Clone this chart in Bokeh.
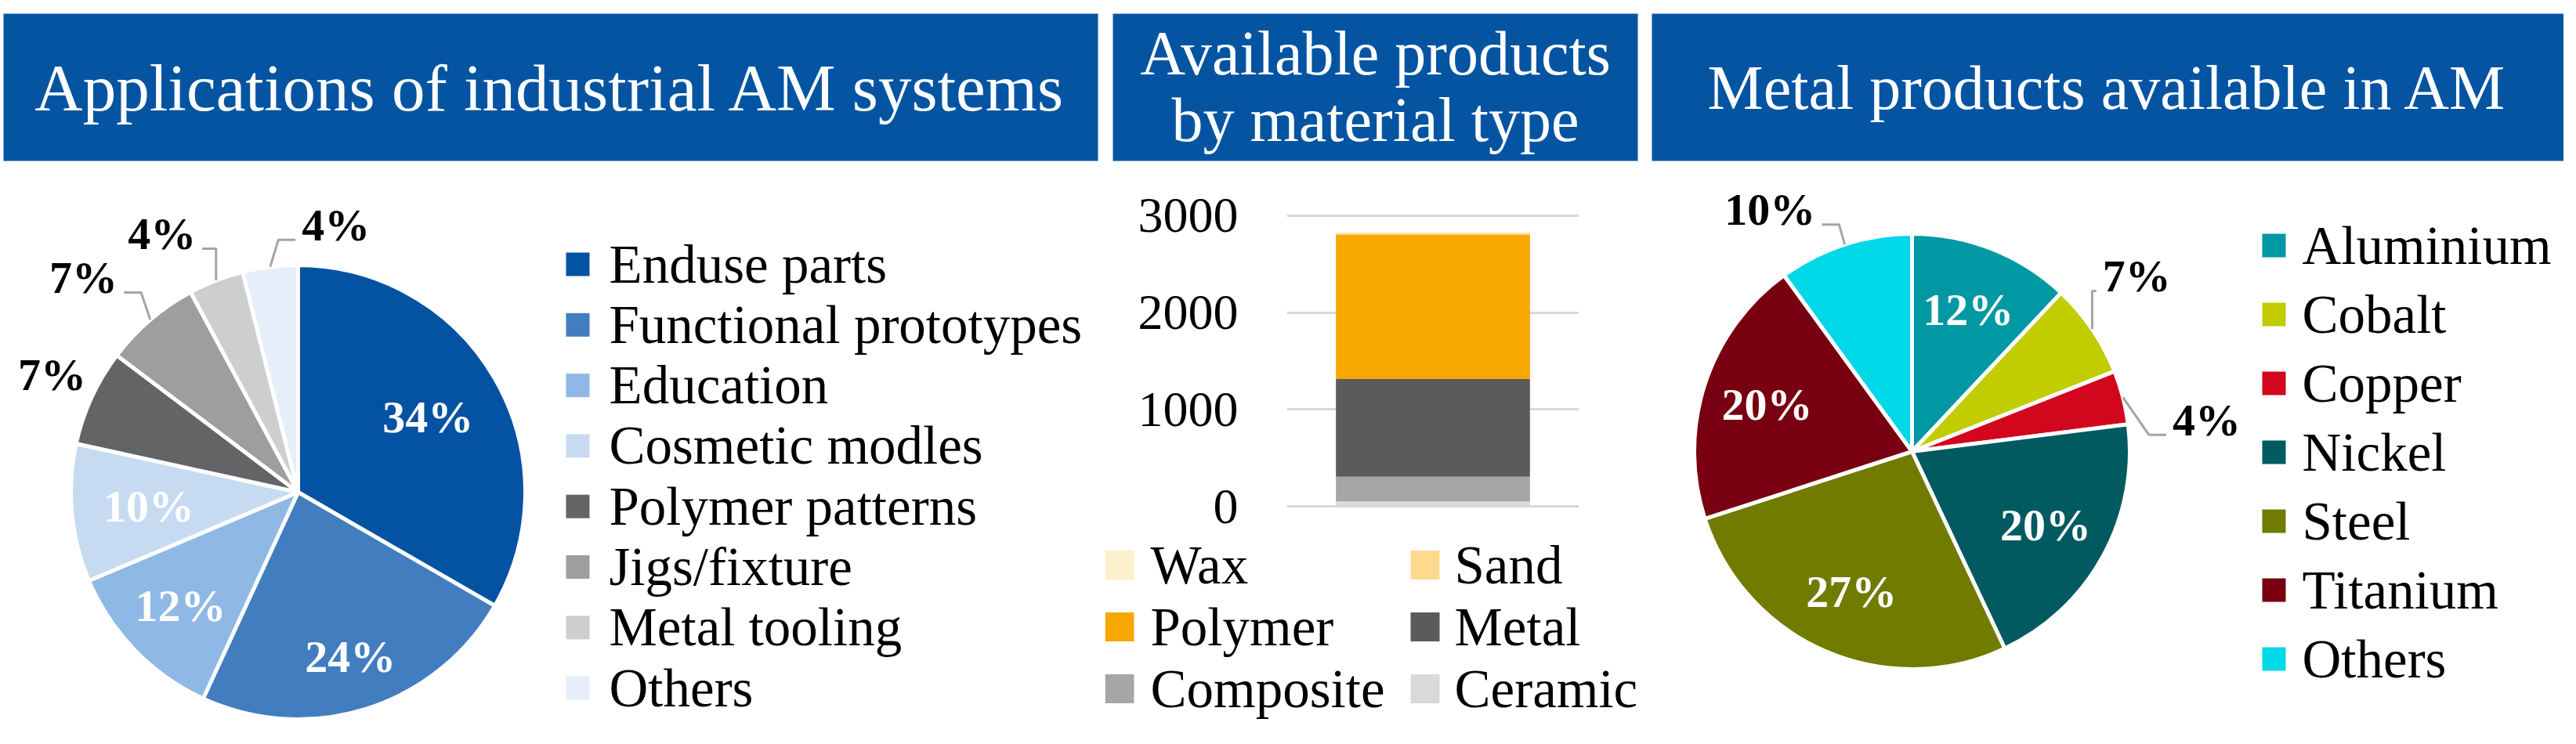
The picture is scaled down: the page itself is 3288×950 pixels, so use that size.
import math
from bokeh.plotting import figure
from bokeh.layouts import row, column
from bokeh.models import Range1d, ColumnDataSource, FixedTicker, FactorRange
from bokeh.embed import file_html
from bokeh.resources import INLINE
from bokeh.core.properties import value

# ---------------- data ----------------
app_title = ["Applications of industrial AM systems"]
app_labels = ["Enduse parts", "Functional prototypes", "Education", "Cosmetic modles",
              "Polymer patterns", "Jigs/fixture", "Metal tooling", "Others"]
app_pct = [34, 24, 12, 10, 7, 7, 4, 4]
app_colors = ["#0453A3", "#427EBF", "#8FB8E5", "#C6DBF2",
              "#636466", "#9D9EA0", "#CDCED0", "#E6EEF9"]

mat_title = ["Available products", "by material type"]
mat_labels = ["Wax", "Sand", "Polymer", "Metal", "Composite", "Ceramic"]
mat_values = [10, 15, 1490, 1010, 255, 50]
mat_colors = ["#FFF0CC", "#FFD98E", "#F6A800", "#5B5B5B", "#A6A6A6", "#D9D9D9"]
mat_stack_order = ["Ceramic", "Composite", "Metal", "Polymer", "Sand", "Wax"]
mat_ticks = [0, 1000, 2000, 3000]

metal_title = ["Metal products available in AM"]
metal_labels = ["Aluminium", "Cobalt", "Copper", "Nickel", "Steel", "Titanium", "Others"]
metal_pct = [12, 7, 4, 20, 27, 20, 10]
metal_colors = ["#0098A2", "#C1CD00", "#D2061C", "#005A60", "#707B00", "#780010", "#00D7E7"]

# ---------------- style ----------------
FONT = value("Liberation Serif")
HEADER_BLUE = "#0454A2"
LEADER = "#A5A5A5"
PAGE_H = 950
LAB_FS = 58
LEG_FS = "69px"

# label placement style (radius factor, angular nudge in deg, inside?, leader?)
app_lab_r = [0.66, 0.76, 0.72, 0.66, 1.20, 1.336, 1.286, 1.188]
app_lab_nudge = [0, 0, 0, 0, 0.8, -4.4, -6.6, 15.1]
app_inside = [True, True, True, True, False, False, False, False]
app_leader = [False, False, False, False, False, True, True, True]

metal_lab_r = [0.70, 1.309, 1.36, 0.70, 0.70, 0.70, 1.288]
metal_lab_nudge = [0, -3.8, 8.3, 0, 0, 0, -12.4]
metal_inside = [True, False, False, True, True, True, False]
metal_leader = [False, True, True, False, False, False, True]


def Y(py):
    return PAGE_H - py


def no_align(p):
    if "frame_align" in p.properties():
        p.frame_align = False


def canvas(x0, x1, y0, y1):
    p = figure(width=x1 - x0, height=y1 - y0,
               x_range=Range1d(x0, x1), y_range=Range1d(Y(y1), Y(y0)),
               x_axis_location=None, y_axis_location=None, tools="",
               toolbar_location=None, output_backend="svg", min_border=0,
               outline_line_color=None, background_fill_color="white",
               border_fill_color="white")
    p.grid.visible = False
    no_align(p)
    return p


def header(p, left, right, top, bottom, lines, centers, fs):
    p.quad(left=[left], right=[right], top=[Y(top)], bottom=[Y(bottom)],
           fill_color=HEADER_BLUE, line_color=None)
    p.text(x=[(left + right) / 2] * len(lines), y=[Y(c) for c in centers], text=lines,
           text_font=FONT, text_font_size=fs, text_color="white",
           text_align="center", text_baseline="middle")


def pie(p, cx, cy, r, pct, colors, lab_r, nudge, inside, leader):
    total = float(sum(pct))
    cum = [0.0]
    for v in pct:
        cum.append(cum[-1] + v / total)
    start = [math.pi / 2 - 2 * math.pi * cum[i + 1] for i in range(len(pct))]
    end = [math.pi / 2 - 2 * math.pi * cum[i] for i in range(len(pct))]
    src = ColumnDataSource(dict(start=start, end=end, color=colors))
    p.wedge(x=cx, y=Y(cy), radius=r, start_angle="start", end_angle="end",
            direction="anticlock", fill_color="color", line_color="white",
            line_width=5, line_join="bevel", source=src)

    in_x, in_y, in_t = [], [], []
    out_x, out_y, out_t = [], [], []
    lxs, lys = [], []
    for i, v in enumerate(pct):
        mid = 360.0 * (cum[i] + cum[i + 1]) / 2.0
        ang = math.radians(mid + nudge[i])
        lcx = cx + lab_r[i] * r * math.sin(ang)
        lcy = cy - lab_r[i] * r * math.cos(ang)
        txt = "%d%%" % v
        if inside[i]:
            in_x.append(lcx); in_y.append(Y(lcy)); in_t.append(txt)
        else:
            out_x.append(lcx); out_y.append(Y(lcy)); out_t.append(txt)
        if leader[i]:
            m = math.radians(mid)
            px = cx + r * math.sin(m)
            py = cy - r * math.cos(m)
            w = LAB_FS * (0.5 * len(str(v)) + 1.0)
            if lcx < px:
                ex = lcx + w / 2 + 8
                sgn = 1
            else:
                ex = lcx - w / 2 - 8
                sgn = -1
            elx = ex + sgn * min(22, abs(px - ex))
            ly = lcy + 19
            lxs.append([ex, elx, px])
            lys.append([Y(ly), Y(ly), Y(py)])
    if lxs:
        p.multi_line(xs=lxs, ys=lys, line_color=LEADER, line_width=3)
    p.text(x=in_x, y=in_y, text=in_t, text_font=FONT, text_font_size="%dpx" % LAB_FS,
           text_font_style="bold", text_color="white", text_align="center",
           text_baseline="middle")
    p.text(x=out_x, y=out_y, text=out_t, text_font=FONT, text_font_size="%dpx" % LAB_FS,
           text_font_style="bold", text_color="black", text_align="center",
           text_baseline="middle")


def legend(p, labels, colors, sx, tx, y0, dy, size):
    ys = [y0 + dy * i for i in range(len(labels))]
    p.rect(x=[sx] * len(labels), y=[Y(v) for v in ys], width=size, height=size,
           fill_color=colors, line_color=None)
    p.text(x=[tx] * len(labels), y=[Y(v) for v in ys], text=labels,
           text_font=FONT, text_font_size=LEG_FS, text_color="black",
           text_align="left", text_baseline="middle")


# ---------------- left panel ----------------
left = canvas(0, 1410, 0, 934)
header(left, 4, 1401, 17, 205, app_title, [111], "85px")
pie(left, 380, 628, 290, app_pct, app_colors, app_lab_r, app_lab_nudge, app_inside, app_leader)
legend(left, app_labels, app_colors, 737, 777, 337, 77.3, 30)

# ---------------- middle panel ----------------
mid_head = canvas(1410, 2098, 0, 238)
header(mid_head, 1420, 2090, 17, 205, mat_title, [67, 152], "80px")

bar = figure(width=688, height=444, x_range=FactorRange(factors=["AM"]),
             y_range=Range1d(-113, 3202), x_axis_location=None, tools="",
             toolbar_location=None, output_backend="svg",
             min_border_left=232, min_border_right=83, min_border_top=12,
             min_border_bottom=22, outline_line_color=None,
             background_fill_color="white", border_fill_color="white")
no_align(bar)
src = ColumnDataSource(dict(x=["AM"], **{lab: [v] for lab, v in zip(mat_labels, mat_values)}))
col_of = dict(zip(mat_labels, mat_colors))
bar.vbar_stack(mat_stack_order, x="x", width=0.664,
               fill_color=[col_of[s] for s in mat_stack_order], line_color=None, source=src)
bar.yaxis.ticker = FixedTicker(ticks=mat_ticks)
bar.yaxis.axis_line_color = None
bar.yaxis.major_tick_line_color = None
bar.yaxis.minor_tick_line_color = None
bar.yaxis.major_tick_out = 0
bar.yaxis.major_tick_in = 0
bar.yaxis.major_label_standoff = 62
bar.yaxis.major_label_text_font = "Liberation Serif"
bar.yaxis.major_label_text_font_size = "64px"
bar.yaxis.major_label_text_color = "black"
bar.ygrid.ticker = FixedTicker(ticks=mat_ticks)
bar.ygrid.grid_line_color = "#D9D9D9"
bar.ygrid.grid_line_width = 3
bar.xgrid.visible = False

mid_leg = canvas(1410, 2098, 682, 934)
leg_cols_sx = [1428.5, 1818.5]
leg_cols_tx = [1468, 1856]
leg_rows_y = [721, 800, 879]
for c in range(2):
    labs = mat_labels[c::2]
    cols = mat_colors[c::2]
    legend(mid_leg, labs, cols, leg_cols_sx[c], leg_cols_tx[c], leg_rows_y[0],
           leg_rows_y[1] - leg_rows_y[0], 37)

middle = column(mid_head, bar, mid_leg, spacing=0)

# ---------------- right panel ----------------
right = canvas(2098, 3272, 0, 934)
header(right, 2108, 3272, 17, 205, metal_title, [111], "80px")
pie(right, 2440, 576, 278, metal_pct, metal_colors, metal_lab_r, metal_lab_nudge,
    metal_inside, metal_leader)
legend(right, metal_labels, metal_colors, 2902, 2938, 313, 88, 30)

layout = row(left, middle, right, spacing=0)
open("out.html", "w").write(file_html(layout, INLINE))
